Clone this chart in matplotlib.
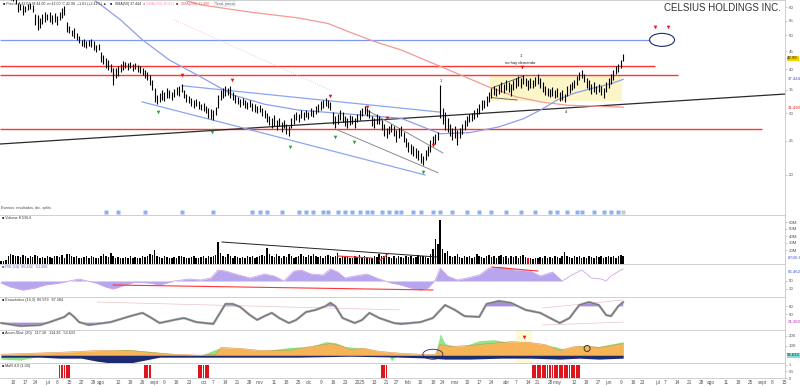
import numpy as np
import pandas as pd
import matplotlib
matplotlib.use("Agg")
import matplotlib.pyplot as plt
from matplotlib.patches import Ellipse, Rectangle
from matplotlib.ticker import NullLocator
from matplotlib.transforms import ScaledTranslation

plt.rcParams["font.family"] = ["Liberation Sans", "DejaVu Sans"]

# ---- daily bars (trading-day index 0 = 2024-06-03) ----
PRICE_HIGH = [
    71.0, 70.2, 68.8, 67.5, 66.9, 66.0, 65.2, 61.9, 61.4, 61.0,
    60.6, 61.4, 61.8, 61.0, 57.5, 57.1, 56.0, 57.5, 58.2, 57.5,
    58.2, 57.1, 57.8, 56.7, 58.2, 59.8, 60.6, 54.6, 53.2, 51.8,
    52.4, 50.8, 49.8, 48.5, 48.8, 48.1, 48.5, 48.8, 48.1, 46.9,
    47.2, 44.8, 43.9, 43.0, 42.5, 41.4, 40.3, 40.3, 40.8, 41.4,
    42.2, 41.9, 41.6, 41.9, 41.4, 41.6, 41.1, 40.8, 40.3, 39.8,
    39.3, 38.5, 37.3, 35.4, 33.8, 34.2, 34.9, 34.4, 35.4, 34.9,
    34.4, 35.2, 35.6, 35.9, 36.4, 34.9, 34.0, 33.6, 33.2, 32.7,
    32.9, 32.5, 31.8, 32.1, 31.4, 31.0, 30.8, 30.6, 31.2, 33.8,
    34.9, 35.4, 35.9, 35.4, 35.9, 34.4, 33.8, 33.4, 32.9, 33.2,
    32.7, 32.3, 32.7, 32.1, 31.8, 31.4, 31.6, 31.0, 30.6, 30.0,
    29.4, 29.0, 29.6, 28.7, 29.0, 28.3, 28.7, 27.9, 27.6, 29.0,
    29.8, 30.2, 29.8, 30.6, 30.2, 30.6, 30.2, 31.0, 30.6, 31.4,
    31.8, 32.5, 32.7, 33.2, 32.7, 32.3, 30.2, 29.4, 29.8, 30.6,
    30.2, 29.4, 29.0, 29.6, 29.4, 29.0, 29.8, 30.6, 31.0, 31.4,
    31.0, 30.6, 29.4, 29.0, 29.8, 29.4, 28.7, 27.9, 27.2, 27.6,
    27.9, 27.6, 26.9, 27.2, 27.6, 26.5, 25.5, 24.9, 24.5, 24.2,
    23.9, 23.6, 23.1, 22.7, 23.6, 24.2, 25.2, 25.9, 26.2, 26.5,
    36.1, 31.0, 30.2, 29.0, 27.9, 27.2, 27.6, 26.9, 27.2, 27.9,
    28.7, 29.4, 29.8, 30.0, 30.6, 31.0, 31.8, 32.7, 32.7, 33.6,
    34.4, 35.4, 35.9, 35.4, 36.1, 36.8, 36.4, 37.3, 36.8, 36.4,
    37.3, 37.7, 38.2, 37.7, 38.5, 37.7, 37.3, 37.7, 37.3, 38.0,
    38.8, 37.7, 36.8, 35.9, 35.4, 35.2, 35.6, 34.9, 35.4, 34.4,
    34.9, 34.0, 35.9, 36.4, 36.8, 37.3, 38.2, 39.3, 39.8, 38.8,
    37.7, 37.3, 36.4, 36.8, 35.9, 36.4, 35.9, 35.4, 36.8, 37.7,
    38.8, 39.8, 40.8, 41.4, 42.5, 44.2]
PRICE_LOW = [
    66.5, 66.0, 64.9, 63.8, 63.2, 62.4, 61.3, 58.2, 59.0, 57.1,
    58.2, 59.0, 59.4, 58.2, 53.5, 51.8, 52.4, 53.9, 54.6, 55.3,
    54.6, 53.9, 54.6, 53.5, 55.3, 56.0, 57.1, 51.1, 50.8, 49.8,
    49.1, 48.5, 47.5, 46.6, 46.3, 46.0, 46.6, 46.3, 45.4, 44.8,
    45.4, 41.9, 41.4, 40.3, 39.8, 39.3, 36.1, 37.7, 38.2, 39.3,
    39.8, 40.3, 39.8, 40.3, 39.5, 40.0, 39.3, 39.0, 38.5, 37.7,
    37.3, 36.1, 34.9, 32.3, 31.8, 32.3, 32.7, 32.5, 33.2, 33.2,
    32.7, 33.4, 33.8, 33.6, 34.4, 33.2, 32.3, 32.1, 31.4, 31.0,
    31.4, 30.8, 30.6, 30.4, 30.0, 29.0, 28.9, 28.7, 29.6, 31.0,
    32.7, 33.2, 33.6, 33.8, 33.2, 32.7, 32.1, 31.8, 31.2, 31.6,
    31.0, 30.8, 31.2, 30.4, 30.2, 30.0, 30.2, 29.4, 29.0, 28.3,
    27.7, 27.2, 27.6, 26.9, 27.6, 26.5, 27.2, 26.2, 25.9, 27.2,
    27.9, 28.7, 28.3, 29.0, 28.7, 29.2, 28.9, 29.4, 29.2, 29.8,
    30.2, 30.6, 31.0, 31.4, 31.0, 30.6, 27.9, 27.2, 27.9, 28.7,
    28.3, 27.6, 27.2, 27.7, 27.9, 27.2, 28.3, 28.7, 29.4, 29.8,
    29.4, 29.0, 27.6, 27.2, 27.9, 27.9, 26.9, 25.9, 25.5, 26.2,
    26.5, 25.9, 24.9, 25.5, 25.9, 24.9, 24.0, 23.3, 23.0, 22.7,
    22.4, 22.1, 21.7, 21.3, 22.1, 22.7, 23.3, 24.2, 24.5, 25.2,
    29.0, 27.9, 26.9, 26.5, 25.9, 25.2, 25.5, 24.4, 25.5, 26.2,
    26.9, 27.6, 28.3, 28.5, 28.9, 29.2, 29.8, 30.6, 31.0, 31.4,
    32.3, 33.2, 33.8, 33.6, 34.0, 34.4, 34.2, 34.9, 34.4, 33.6,
    34.9, 35.4, 35.9, 35.4, 36.4, 35.9, 34.9, 35.4, 35.4, 35.9,
    36.4, 35.4, 34.4, 33.8, 33.6, 33.4, 33.6, 33.2, 33.4, 32.5,
    32.7, 32.3, 33.6, 34.2, 34.9, 35.4, 36.1, 37.3, 37.7, 36.8,
    35.4, 34.9, 34.0, 34.4, 34.0, 34.4, 33.8, 33.2, 34.4, 35.4,
    36.4, 37.3, 38.8, 39.3, 40.3, 42.1]
VOLUME_M = [
    5, 4, 6, 12, 14, 13, 11, 12, 10, 13,
    12, 9, 11, 10, 13, 12, 9, 10, 8, 11,
    10, 9, 12, 11, 10, 13, 9, 15, 14, 11,
    10, 12, 9, 8, 10, 11, 9, 12, 10, 8,
    9, 11, 14, 12, 10, 16, 12, 9, 10, 8,
    9, 10, 8, 11, 9, 10, 8, 9, 11, 10,
    12, 14, 13, 20, 11, 10, 9, 12, 10, 8,
    9, 10, 8, 11, 12, 10, 9, 8, 10, 12,
    9, 8, 10, 11, 9, 12, 10, 11, 13, 31,
    16, 12, 10, 14, 11, 9, 12, 10, 8, 10,
    9, 11, 10, 12, 9, 10, 11, 13, 12, 23,
    14, 12, 10, 15, 11, 9, 12, 10, 14, 11,
    9, 10, 12, 14, 11, 10, 13, 12, 14, 11,
    10, 12, 9, 11, 13, 12, 10, 11, 16, 9,
    12, 10, 11, 9, 8, 12, 10, 13, 9, 11,
    10, 8, 9, 12, 10, 14, 11, 12, 16, 10,
    9, 11, 8, 12, 10, 9, 11, 10, 12, 9,
    10, 13, 11, 12, 10, 9, 14, 21, 36, 28,
    63, 22, 16, 18, 12, 10, 11, 14, 10, 9,
    11, 10, 12, 9, 10, 14, 11, 10, 9, 12,
    13, 10, 11, 9, 12, 13, 10, 12, 9, 11,
    10, 12, 9, 11, 13, 10, 8, 9, 7, 8,
    9, 10, 8, 11, 9, 10, 8, 12, 10, 9,
    11, 17, 12, 10, 9, 11, 10, 12, 9, 10,
    8, 11, 10, 9, 12, 10, 11, 9, 10, 12,
    10, 11, 9, 12, 13, 11]
LAST_PRICE = 42.99
VOLUME_HIGHLIGHT = 216

# moving averages (sparse readings: day index, value)
SMA50_X = [30, 38, 41, 49, 58, 69, 82, 95, 108, 122, 143, 164, 180, 192, 204, 214, 221, 228, 235, 243, 250, 255]
SMA50_V = [67.0, 63.0, 61.0, 55.3, 48.5, 42.5, 38.0, 33.8, 31.8, 30.6, 29.8, 29.0, 26.2, 26.4, 27.4, 28.9,
           30.6, 32.7, 34.2, 35.4, 36.4, 37.44]
SMA200_X = [70, 75, 82, 102, 122, 134, 143, 153, 164, 181, 200, 211, 221, 232, 243, 255]
SMA200_V = [64.5, 63.0, 61.0, 58.2, 56.0, 54.0, 51.0, 48.0, 45.4, 40.5, 35.6, 33.4, 32.3, 31.6, 31.4, 31.2]
SMA100_X = [71, 135]
SMA100_V = [55.3, 34.9]

# drawn studies: (start day, end day), (start price, end price)
TREND_BLACK = ((-0.4, 321.3), (24.5, 34.0))
CHANNEL_UPPER = ((74.2, 180.0), (35.9, 30.2))
CHANNEL_LOWER = ((57.8, 173.8), (32.3, 20.0))
GREY_LINE_1 = ((137.7, 179.1), (26.9, 20.3))
GREY_LINE_2 = ((150.0, 181.1), (30.6, 23.1))
BOX_LINE_1 = ((201.2, 213.9), (35.4, 38.2))
BOX_LINE_2 = ((201.2, 211.5), (33.2, 32.7))
LEVEL_BLUE = (48.5, 266.0)
LEVELS_RED = [(40.8, 268.0), (38.5, 277.5), (27.1, 312.0)]
BOX_DAYS = (200.4, 254.5)
BOX_PRICES = (32.5, 38.5)
TARGET_RING = (270.9, 48.5)

RED_SIGNAL_X = [74.2, 94.7, 134.8, 150.0, 158.2, 177.0, 213.5, 268.0, 273.4]
RED_SIGNAL_P = [38.5, 37.3, 33.6, 31.2, 29.0, 24.4, 40.6, 52.8, 52.8]
GREEN_SIGNAL_X = [64.3, 86.5, 118.4, 136.9, 144.7, 173.0]
GREEN_SIGNAL_P = [30.2, 26.5, 24.0, 25.7, 24.9, 20.4]

EVENT_DAYS = [43, 48, 59, 74, 87, 103, 106, 109, 115, 122, 125, 128, 132, 134, 138, 141, 144, 147,
              150, 152, 156, 159, 162, 164, 169, 172, 177, 180, 185, 191, 196, 201, 207, 213, 219,
              225, 228, 232, 236, 238, 243, 247, 250, 253]

# volume studies
VOL_TREND = ((90.6, 178.7), (31.4, 10.0))
VOL_RED_1 = ((138.0, 152.0), (11.4, 8.6))
VOL_RED_2 = ((155.0, 158.6), (4.3, 14.3))

# RSI (14)
RSI_X = [0, 4, 9, 14, 18, 24, 32, 39, 43, 46, 51, 55, 61, 65, 71, 77, 82, 86, 89, 92,
         96, 102, 108, 112, 116, 120, 123, 127, 132, 135, 138, 141, 145, 150, 155, 160, 164, 168, 172, 175,
         178, 180, 183, 187, 191, 196, 200, 205, 211, 217, 221, 226, 230, 234, 238, 242, 246, 248, 250, 254, 255]
RSI_V = [45, 35, 27.5, 32.5, 40, 45, 55, 45, 35, 30, 40, 47.5, 45, 40, 50, 55, 52.5, 57.5, 77.5, 75,
         67.5, 57.5, 67.5, 62.5, 50, 75, 77.5, 67.5, 65, 80, 72.5, 57.5, 62.5, 67.5, 55, 45, 40, 32.5, 27.5, 32.5,
         52.5, 82.5, 62.5, 52.5, 57.5, 65, 82.5, 85, 77.5, 75, 62.5, 72.5, 50, 65, 77.5, 57.5, 55, 50, 62.5, 77.5, 80]
RSI_RED_1 = ((46.0, 177.0), (40.0, 27.5))
RSI_RED_2 = ((201.2, 220.0), (85.0, 75.0))

# slow stochastic
STOCH_X = [0, 8, 16, 20, 26, 28, 30, 32, 36, 45, 53, 58, 61, 65, 71, 75, 80, 87, 92, 95,
           98, 102, 105, 108, 111, 114, 118, 121, 125, 129, 133, 135, 137, 140, 145, 148, 151, 155, 161, 164,
           172, 177, 182, 186, 190, 196, 199, 204, 209, 215, 221, 225, 229, 233, 237, 241, 245, 248, 250, 253, 255]
STOCH_V = [18.5, 7.4, 11, 22, 41, 56, 41, 22, 11, 22, 44, 56, 41, 18.5, 30, 37, 22, 15, 89, 89,
           78, 48, 30, 44, 56, 37, 18.5, 30, 59, 67, 81, 93, 81, 37, 18.5, 30, 56, 37, 18.5, 15,
           22, 37, 85, 67, 44, 41, 89, 100, 93, 67, 56, 37, 18.5, 37, 85, 96, 85, 48, 44, 81, 96]
STOCH_LINES = [((39.5, 163.5), (96, 67)), ((222.0, 255.0), (74, 104)), ((222.0, 255.0), (11, 22))]

# area study (three components)
ORANGE_X = [0, 12, 24, 41, 53, 61, 71, 82, 88, 90, 98, 106, 118, 127, 135, 139, 143, 149, 155, 164,
            172, 178, 180, 184, 192, 200, 209, 217, 223, 229, 235, 241, 245, 250, 255]
ORANGE_V = [10, 20, 30, 50, 50, 30, 10, 0, 10, 80, 70, 50, 50, 90, 120, 100, 60, 70, 40, 20,
            10, 10, 110, 90, 100, 120, 140, 130, 110, 50, 90, 90, 80, 100, 120]
GREEN_X = [0, 8, 16, 24, 41, 51, 61, 71, 82, 89, 98, 106, 118, 127, 133, 137, 141, 149, 155, 159,
           160, 162, 164, 172, 178, 180, 182, 188, 196, 202, 209, 215, 223, 227, 231, 237, 245, 255]
GREEN_V = [-40, -50, -10, 20, 40, 60, 40, 10, 0, 70, 60, 40, 80, 90, 140, 130, 90, 70, 30, 10,
           -60, 0, 0, 0, 0, 220, 120, 80, 150, 160, 130, 130, 100, 90, 60, 100, 90, 140]
NAVY_X = [0, 16, 24, 33, 39, 45, 53, 59, 65, 82, 102, 122, 143, 164, 176, 182, 192, 205, 217, 229, 237, 245, 255]
NAVY_V = [-20, -20, -30, -30, -60, -80, -80, -50, -20, -20, -20, -20, -10, -20, -30, -40, -40, -30, -30,
          -40, -30, -40, -30]

SIGNAL_DAYS = [24, 25, 26, 27, 28, 59, 60, 61, 81, 82, 83, 84, 85, 156, 157, 158] + \
              [218, 219, 220, 221, 222, 223, 224, 225, 226, 227, 228, 229, 230, 231, 232, 233, 234, 235, 236, 237]

HOLIDAYS = ["2024-06-19", "2024-07-04", "2024-09-02", "2024-11-28", "2024-12-25", "2025-01-01",
            "2025-01-09", "2025-01-20", "2025-02-17", "2025-04-18", "2025-05-26", "2025-06-19",
            "2025-07-04", "2025-09-01"]
MONTHS = ["2025", "feb", "mar", "abr", "may", "jun", "jul", "ago", "sept", "oct", "nov", "dic"]
PRICE_TICKS = [20, 25, 30, 35, 40, 45, 50, 55, 60]

W, H = 800, 387
XLIM = (-0.4, 321.3)
EDGE = "#c8c8c8"

fig = plt.figure(figsize=(W / 100, H / 100), dpi=100)


def panel(top, bottom):
    ax = fig.add_axes([0, 1 - bottom / H, 785 / W, (bottom - top) / H])
    ax.set_xlim(*XLIM)
    ax.set_xticks([])
    for s in ax.spines.values():
        s.set_color(EDGE)
        s.set_linewidth(0.6)
    ax.spines["left"].set_visible(False)
    ax.yaxis.tick_right()
    ax.tick_params(axis="y", length=1.5, width=0.4, color="#999999",
                   labelsize=3.2, labelcolor="#555555", pad=1)
    return ax


def ring(ax, x, y, w_px, h_px, color, lw=0.8):
    tr = fig.dpi_scale_trans + ScaledTranslation(x, y, ax.transData)
    ax.add_patch(Ellipse((0, 0), w_px / 100, h_px / 100, transform=tr, fill=False,
                         ec=color, lw=lw, clip_on=False, zorder=6))


def seg(ax, line, **kw):
    ax.plot(line[0], line[1], **kw)


def tag(ax, y, text, fc="none", color="#333333"):
    ax.text(1.003, y, text, transform=ax.get_yaxis_transform(), fontsize=3.1, va="center",
            ha="left", color=color, bbox=dict(fc=fc, ec="none", pad=0.5), clip_on=False)


ax_p = panel(0, 215)
ax_v = panel(215, 264)
ax_r = panel(264, 297)
ax_s = panel(297, 330)
ax_a = panel(330, 363)
ax_b = panel(363, 378)

# ---------------- price ----------------
days_idx = np.arange(len(PRICE_HIGH))
ax_p.set_yscale("log")
ax_p.set_ylim(15.38, 63.0)
ax_p.yaxis.set_minor_locator(NullLocator())
ax_p.set_yticks(PRICE_TICKS)
ax_p.set_yticklabels([str(t) for t in PRICE_TICKS])

ax_p.add_patch(Rectangle((BOX_DAYS[0], BOX_PRICES[0]), BOX_DAYS[1] - BOX_DAYS[0],
                         BOX_PRICES[1] - BOX_PRICES[0], fc="#fbf5c8", ec="none", zorder=0))
ax_p.hlines(LEVEL_BLUE[0], XLIM[0], LEVEL_BLUE[1], color="#7d9af2", lw=0.9, zorder=1)
for price, end in LEVELS_RED:
    ax_p.hlines(price, XLIM[0], end, color="#ff3535", lw=1.0, zorder=1)
seg(ax_p, TREND_BLACK, color="#2a2a2a", lw=0.9, zorder=2)
seg(ax_p, CHANNEL_UPPER, color="#8aa6f2", lw=0.9, zorder=2)
seg(ax_p, CHANNEL_LOWER, color="#8aa6f2", lw=0.9, zorder=2)
seg(ax_p, GREY_LINE_1, color="#8c8c8c", lw=0.7, zorder=2)
seg(ax_p, GREY_LINE_2, color="#8c8c8c", lw=0.7, zorder=2)
seg(ax_p, BOX_LINE_1, color="#555555", lw=0.6, zorder=2)
seg(ax_p, BOX_LINE_2, color="#555555", lw=0.6, zorder=2)
ax_p.plot(SMA100_X, SMA100_V, color="#f4b8c0", lw=0.6, ls=":", zorder=2)
ax_p.plot(SMA200_X, SMA200_V, color="#f39a92", lw=0.9, zorder=2)
ax_p.plot(SMA50_X, SMA50_V, color="#8f9ee8", lw=0.9, zorder=2)

ax_p.vlines(days_idx, PRICE_LOW, PRICE_HIGH, color="black", lw=0.8, zorder=3)

ax_p.plot(RED_SIGNAL_X, RED_SIGNAL_P, "v", ms=2.6, color="#e8141c", mec="none", zorder=4)
ax_p.plot(GREEN_SIGNAL_X, GREEN_SIGNAL_P, "v", ms=2.6, color="#22a838", mec="none", zorder=4)
ax_p.plot(EVENT_DAYS, [15.7] * len(EVENT_DAYS), "s", ms=2.3, color="#8fb0f0", mec="none")
ax_p.plot([255], [15.7], "s", ms=2.3, color="#c8c8c8", mec="none")

ax_p.text(212.7, 41.7, "no hay demanda", fontsize=3.0, ha="center", va="center", color="#222222")
ax_p.text(213.0, 43.6, "1", fontsize=3.0, ha="center", va="center", color="#222222")
ax_p.text(180.3, 37.0, "1", fontsize=3.0, ha="center", va="center", color="#222222")
ax_p.text(231.6, 30.2, "4", fontsize=3.0, ha="center", va="center", color="#222222")
ring(ax_p, TARGET_RING[0], TARGET_RING[1], 25, 13, "#1d2c6e")

tag(ax_p, LAST_PRICE, "42.99", fc="#f2d200", color="#222222")
tag(ax_p, SMA50_V[-1], "37.444", color="#3b4fd6")
tag(ax_p, 31.0, "31.490", color="#e02020")

fig.text(781 / W, 1 - 8 / H, "CELSIUS HOLDINGS INC.", ha="right", va="center",
         fontsize=7, color="#333333")

legend_y = 1 - 3.5 / H
fig.text(3 / W, legend_y, "■ Precio  A 42.07  M 44.00  m 42.00  C 42.99  +1.01 (+2.41%) ▲",
         fontsize=2.6, color="#333333", va="center")
fig.text(110 / W, legend_y, "■", fontsize=2.6, color="#1d2c9e", va="center")
fig.text(115 / W, legend_y, "SMA(50) 37.444", fontsize=2.6, color="#333333", va="center")
fig.text(143 / W, legend_y, "■ SMA(100) 40.651", fontsize=2.6, color="#f4a0b0", va="center")
fig.text(176 / W, legend_y, "■", fontsize=2.6, color="#e81010", va="center")
fig.text(181 / W, legend_y, "SMA(200) 31.490", fontsize=2.6, color="#e06060", va="center")
fig.text(215 / W, legend_y, "Tend. precio", fontsize=2.6, color="#555555", va="center",
         bbox=dict(fc="none", ec="#bbbbbb", lw=0.3, pad=0.4))
fig.text(1 / W, 1 - 208 / H, "Eventos: resultados, div., splits", fontsize=2.6, color="#444444", va="center")

# ---------------- volume ----------------
ax_v.set_ylim(0, 70)
vol_colors = ["#e01010" if i == VOLUME_HIGHLIGHT else "black" for i in days_idx]
ax_v.bar(days_idx, VOLUME_M, width=0.62, color=vol_colors)
seg(ax_v, VOL_TREND, color="#222222", lw=0.7)
seg(ax_v, VOL_RED_1, color="#ff3535", lw=0.8)
seg(ax_v, VOL_RED_2, color="#ff3535", lw=0.8)
ax_v.set_yticks([20, 30, 40, 50, 60])
ax_v.set_yticklabels(["20M", "30M", "40M", "50M", "60M"])
ax_v.text(0.003, 0.93, "■ Volume 8.536.6", transform=ax_v.transAxes, fontsize=2.7,
          color="#333333", va="center")
tag(ax_v, 8.5, "8.536.6", color="#3b4fd6")

# ---------------- RSI ----------------
ax_r.set_ylim(10, 92.5)
rx = np.array(RSI_X)
rv = np.array(RSI_V)
ax_r.fill_between(rx, rv, 50, where=rx <= 226, interpolate=True, color="#b7a6ee", lw=0)
ax_r.plot(rx, rv, color="#d2a4ea", lw=0.6)
seg(ax_r, RSI_RED_1, color="#ff3535", lw=0.8)
seg(ax_r, RSI_RED_2, color="#ff3535", lw=0.8)
ax_r.set_yticks([30, 50])
ax_r.text(0.003, 0.9, "■ RSI (14)  66.462   51.266", transform=ax_r.transAxes, fontsize=2.7,
          color="#5566dd", va="center")
tag(ax_r, 72, "66.462", color="#3b4fd6")

# ---------------- stochastic ----------------
ax_s.set_ylim(-7.4, 114.8)
sx = np.array(STOCH_X)
sv = np.array(STOCH_V, dtype=float)
ax_s.fill_between(sx, sv, 80, where=sv >= 80, interpolate=True, color="#a88ee2", lw=0)
ax_s.fill_between(sx, sv, 20, where=sv <= 20, interpolate=True, color="#a88ee2", lw=0)
for line in STOCH_LINES:
    seg(ax_s, line, color="#e9c3c8", lw=0.5)
ax_s.plot(sx, sv, color="#9a9a9a", lw=1.7, solid_capstyle="round")
ax_s.plot(sx, sv, color="#5e5e6e", lw=0.4)
ax_s.set_yticks([50, 80])
ax_s.text(0.003, 0.9, "■ Estocástico (14,3)  86.979   87.384", transform=ax_s.transAxes,
          fontsize=2.7, color="#333333", va="center")
tag(ax_s, 21, "21.380", color="#c02fc0")

# ---------------- area study ----------------
ax_a.set_ylim(-80, 260)
ax_a.axvspan(211, 217.5, color="#fffbd2", lw=0, zorder=0)
ax_a.fill_between(GREEN_X, GREEN_V, 0, color="#8ee68a", lw=0, zorder=1)
ax_a.fill_between(ORANGE_X, ORANGE_V, 0, color="#f6b457", lw=0, zorder=2)
ax_a.plot(ORANGE_X, ORANGE_V, color="#e08a3a", lw=0.4, zorder=3)
ax_a.fill_between(NAVY_X, NAVY_V, 0, color="#1e2a70", lw=0, zorder=2)
ax_a.plot([214.3], [190], "v", ms=2.6, color="#e8141c", mec="none", zorder=5)
ring(ax_a, 177.0, 10, 20, 10, "#1d2c6e", lw=0.6)
ring(ax_a, 240.2, 70, 6, 6, "#222222", lw=0.6)
ax_a.set_yticks([100, 200])
ax_a.text(0.003, 0.9, "■ Acum./Dist. (20)   117.18   114.26   53.633", transform=ax_a.transAxes,
          fontsize=2.7, color="#333333", va="center")
tag(ax_a, 0, "53.633", fc="#7fe0e0", color="#222222")

# ---------------- signal bars ----------------
ax_b.set_ylim(0, 1.15)
ax_b.bar(SIGNAL_DAYS, [1] * len(SIGNAL_DAYS), width=0.75, color="#e0141c")
ax_b.set_yticks([0, 0.5, 1])
ax_b.set_yticklabels(["0", "0.5", "1"])
ax_b.tick_params(axis="y", labelsize=2.8)
ax_b.text(0.003, 0.8, "■ MaR 4.0 (1.00)", transform=ax_b.transAxes, fontsize=2.7,
          color="#333333", va="center")

# ---------------- date axis ----------------
days = pd.bdate_range("2024-06-03", periods=330, freq="C", holidays=HOLIDAYS)
month_starts = [i for i in range(1, len(days)) if days[i].month != days[i - 1].month]
tick_pos, tick_lab = [], []
for i in range(2, 322):
    d = days[i]
    if i in month_starts:
        tick_pos.append(i)
        tick_lab.append(MONTHS[d.month - 1])
    elif d.weekday() < days[i - 1].weekday() and all(abs(i - m) > 2 for m in month_starts):
        tick_pos.append(i)
        tick_lab.append(str(d.day))
ax_b.set_xticks(tick_pos)
ax_b.set_xticklabels(tick_lab)
ax_b.tick_params(axis="x", length=0, pad=1.2, labelsize=3.4, labelcolor="#555555")

fig.savefig("out.png", dpi=100)
